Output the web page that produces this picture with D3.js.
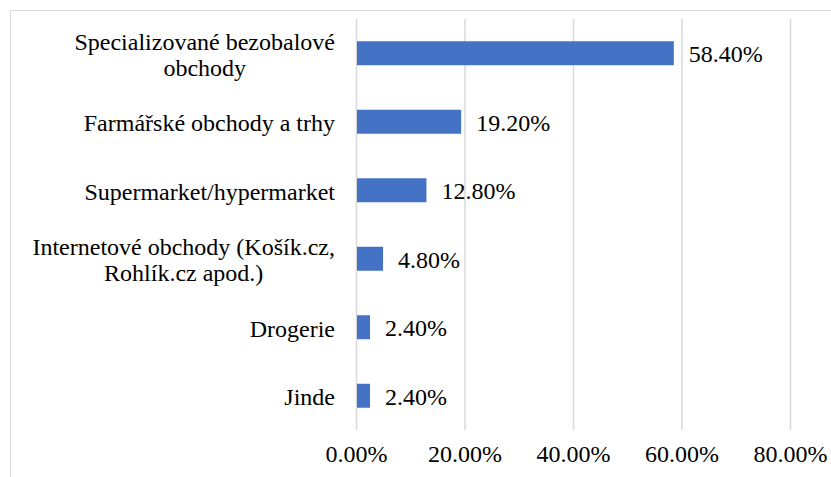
<!DOCTYPE html>
<html>
<head>
<meta charset="utf-8">
<script src="https://cdn.jsdelivr.net/npm/d3@7"></script>
<style>
  body { margin: 0; background: #fff; }
  text { font-family: "Liberation Serif", "Times New Roman", serif; fill: #000; }
</style>
</head>
<body>
<div id="chart-area"></div>
<script>
// Data
var categories = [
    "Specializované bezobalové\nobchody",
    "Farmářské obchody a trhy",
    "Supermarket/hypermarket",
    "Internetové obchody (Košík.cz,\nRohlík.cz apod.)",
    "Drogerie",
    "Jinde"
];
var values = [58.4, 19.2, 12.8, 4.8, 2.4, 2.4];
var tickValues = [0, 20, 40, 60, 80];

var width = 831, height = 477;

var svg = d3.select("#chart-area").append("svg")
    .attr("width", width)
    .attr("height", height);

// chart frame
svg.append("rect")
    .attr("x", 10.5)
    .attr("y", 10.5)
    .attr("width", 900)
    .attr("height", 600)
    .attr("fill", "none")
    .attr("stroke", "#d9d9d9");

// Scales
var x = d3.scaleLinear().domain([0, 80]).range([356, 790]);
var y = d3.scaleBand()
    .domain(categories)
    .range([19, 430])
    .paddingInner(0.65)
    .paddingOuter(0.325);

// Gridlines
svg.append("g").selectAll("line")
    .data(tickValues)
    .enter().append("line")
    .attr("x1", function(d) { return x(d) + 0.5; })
    .attr("x2", function(d) { return x(d) + 0.5; })
    .attr("y1", 19)
    .attr("y2", 430)
    .attr("stroke", "#d9d9d9")
    .attr("stroke-width", 1.5);

// X axis (labels only)
var xAxisCall = d3.axisBottom(x)
    .tickValues(tickValues)
    .tickSize(0)
    .tickPadding(15)
    .tickFormat(function(d) { return d.toFixed(2) + "%"; });

var xAxis = svg.append("g")
    .attr("transform", "translate(0,430)")
    .call(xAxisCall);
xAxis.select(".domain").remove();
xAxis.selectAll("text")
    .attr("font-size", "24px")
    .attr("fill", "#000");

// Bars
svg.append("g").selectAll("rect")
    .data(values)
    .enter().append("rect")
    .attr("x", x(0) + 1)
    .attr("y", function(d, i) { return y(categories[i]); })
    .attr("width", function(d) { return x(d) - x(0); })
    .attr("height", y.bandwidth())
    .attr("fill", "#4472c4");

// Value labels
svg.append("g").selectAll("text")
    .data(values)
    .enter().append("text")
    .attr("x", function(d) { return x(d) + 16; })
    .attr("y", function(d, i) { return y(categories[i]) + y.bandwidth() / 2; })
    .attr("dy", "0.37em")
    .attr("font-size", "24px")
    .text(function(d) { return d.toFixed(2) + "%"; });

// Category labels (multi-line ones are centred line by line)
var labelRight = 335;
var lineHeight = 26;
categories.forEach(function(c) {
    var lines = c.split("\n");
    var cy = y(c) + y.bandwidth() / 2;
    var t = svg.append("text")
        .attr("font-size", "24px")
        .attr("text-anchor", "middle");
    lines.forEach(function(l, j) {
        t.append("tspan")
            .attr("y", cy + (j - (lines.length - 1) / 2) * lineHeight)
            .attr("dy", "0.4em")
            .text(l);
    });
    var maxW = 0;
    t.selectAll("tspan").each(function() {
        maxW = Math.max(maxW, this.getComputedTextLength());
    });
    t.selectAll("tspan").attr("x", labelRight - maxW / 2);
});
</script>
</body>
</html>
